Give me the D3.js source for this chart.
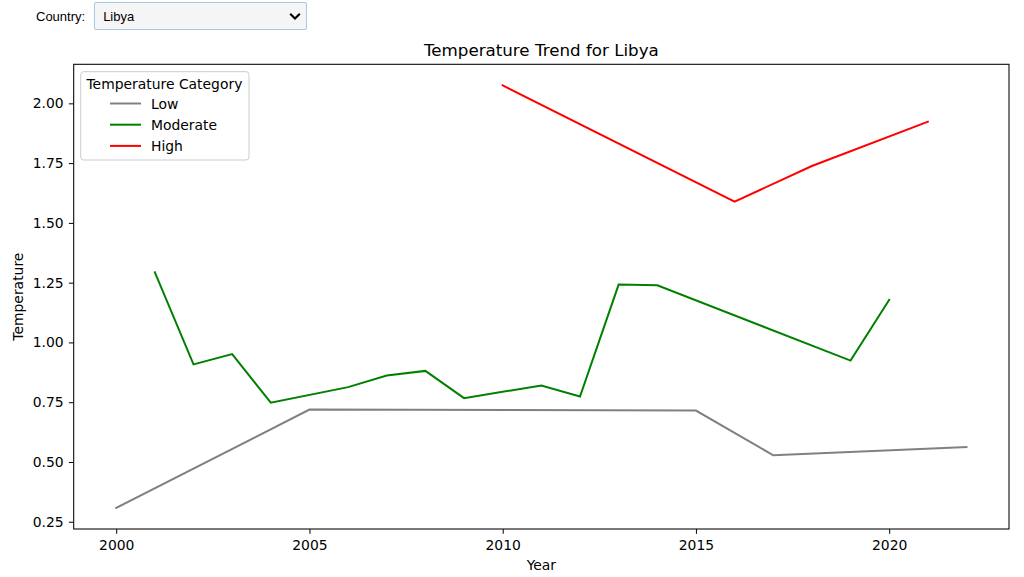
<!DOCTYPE html>
<html>
<head>
<meta charset="utf-8">
<script src="https://cdn.jsdelivr.net/npm/d3@7"></script>
<style>
  html, body { margin: 0; padding: 0; background: #fff; width: 1024px; height: 577px; overflow: hidden; }
  #controls { position: absolute; left: 36px; top: 2px; height: 28px; display: flex; align-items: center;
    font-family: "Liberation Sans", Arial, sans-serif; font-size: 13px; color: #000; }
  #controls label { margin-right: 9px; }
  #country { width: 213px; height: 28px; box-sizing: border-box; border: 1px solid #a6c8ee; border-radius: 2px;
    background-color: #f5f5f5; font-family: "Liberation Sans", Arial, sans-serif; font-size: 13px; color: #000;
    padding: 0 0 0 8px; -webkit-appearance: none; appearance: none;
    background-image: url("data:image/svg+xml;utf8,<svg xmlns='http://www.w3.org/2000/svg' width='12' height='9'><path d='M1.2 1.8 L6 6.6 L10.8 1.8' fill='none' stroke='black' stroke-width='2.1'/></svg>");
    background-repeat: no-repeat; background-position: right 5px center; }
  svg { position: absolute; left: 0; top: 0; }
  text { font-family: "DejaVu Sans", sans-serif; }
</style>
</head>
<body>
<div id="controls"><label for="country">Country:</label><select id="country"><option>Libya</option></select></div>
<svg id="chart" width="1024" height="577"></svg>
<script>
const country = "Libya";
const categories = ["Low", "Moderate", "High"];
const colors = ["#808080", "#008000", "#ff0000"];
const lowYears = [2000, 2005, 2015, 2017, 2022];
const lowValues = [0.308, 0.719, 0.715, 0.528, 0.562];
const moderateYears = [2001, 2002, 2003, 2004, 2006, 2007, 2008, 2009, 2011, 2012, 2013, 2014, 2019, 2020];
const moderateValues = [1.293, 0.908, 0.951, 0.748, 0.813, 0.862, 0.881, 0.767, 0.820, 0.774, 1.242, 1.239, 0.924, 1.178];
const highYears = [2010, 2016, 2018, 2021];
const highValues = [2.075, 1.589, 1.738, 1.923];
const xTicks = [2000, 2005, 2010, 2015, 2020];
const yTicks = [0.25, 0.50, 0.75, 1.00, 1.25, 1.50, 1.75, 2.00];

(function () {
const seriesYears = [lowYears, moderateYears, highYears];
const seriesValues = [lowValues, moderateValues, highValues];
const series = categories.map((c, i) => ({
  name: c, color: colors[i],
  points: seriesYears[i].map((y, j) => ({ year: y, value: seriesValues[i][j] }))
}));

const pLeft = 73.7, pRight = 1009, pTop = 64.3, pBottom = 529;
const fs = 13.9;
const allYears = seriesYears.flat(), allVals = seriesValues.flat();
const xmin = d3.min(allYears), xmax = d3.max(allYears);
const ymin = d3.min(allVals), ymax = d3.max(allVals);
const xpad = (xmax - xmin) * 0.05, ypad = (ymax - ymin) * 0.05;
const x = d3.scaleLinear().domain([xmin - xpad, xmax + xpad]).range([pLeft, pRight]);
const y = d3.scaleLinear().domain([ymin - ypad, ymax + ypad]).range([pBottom, pTop]);

const svg = d3.select("#chart");

const line = d3.line().x(d => x(d.year)).y(d => y(d.value));
svg.append("g").selectAll("path").data(series).join("path")
  .attr("d", d => line(d.points))
  .attr("fill", "none").attr("stroke", d => d.color)
  .attr("stroke-width", 2).attr("stroke-linejoin", "miter").attr("stroke-linecap", "square");

const xAxis = svg.append("g").attr("transform", `translate(0,${pBottom})`)
  .call(d3.axisBottom(x).tickValues(xTicks).tickFormat(d3.format("d")).tickSize(4.8).tickPadding(6.8));
const yAxis = svg.append("g").attr("transform", `translate(${pLeft},0)`)
  .call(d3.axisLeft(y).tickValues(yTicks).tickFormat(d3.format(".2f")).tickSize(4.8).tickPadding(5.2));
[xAxis, yAxis].forEach(a => {
  a.select(".domain").remove();
  a.selectAll("text").attr("font-family", "DejaVu Sans, sans-serif").attr("font-size", fs).attr("fill", "#000");
  a.selectAll("line").attr("stroke", "#000").attr("stroke-width", 1);
});

svg.append("rect").attr("x", pLeft).attr("y", pTop).attr("width", pRight - pLeft).attr("height", pBottom - pTop)
  .attr("fill", "none").attr("stroke", "#000").attr("stroke-width", 1.05);

svg.append("text").attr("x", (pLeft + pRight) / 2).attr("y", 55.5).attr("text-anchor", "middle")
  .attr("font-size", 16.7).attr("fill", "#000").text("Temperature Trend for " + country);
svg.append("text").attr("x", (pLeft + pRight) / 2).attr("y", 569.5).attr("text-anchor", "middle")
  .attr("font-size", fs).attr("fill", "#000").text("Year");
svg.append("text").attr("transform", `translate(22.5,${(pTop + pBottom) / 2}) rotate(-90)`).attr("text-anchor", "middle")
  .attr("font-size", fs).attr("fill", "#000").text("Temperature");

const lg = svg.append("g");
lg.append("rect").attr("x", 80.7).attr("y", 71.7).attr("width", 168.3).attr("height", 88.3).attr("rx", 3)
  .attr("fill", "#fff").attr("fill-opacity", 0.8).attr("stroke", "#cccccc").attr("stroke-width", 1);
lg.append("text").attr("x", 86.5).attr("y", 88.8).attr("font-size", fs).attr("fill", "#000").text("Temperature Category");
const items = lg.selectAll("g.item").data(series).join("g").attr("class", "item")
  .attr("transform", (d, i) => `translate(0,${103.5 + i * 21.2})`);
items.append("line").attr("x1", 110).attr("x2", 141).attr("y1", 0).attr("y2", 0)
  .attr("stroke", d => d.color).attr("stroke-width", 2);
items.append("text").attr("x", 151).attr("y", 5).attr("font-size", fs).attr("fill", "#000").text(d => d.name);
})();
</script>
</body>
</html>
